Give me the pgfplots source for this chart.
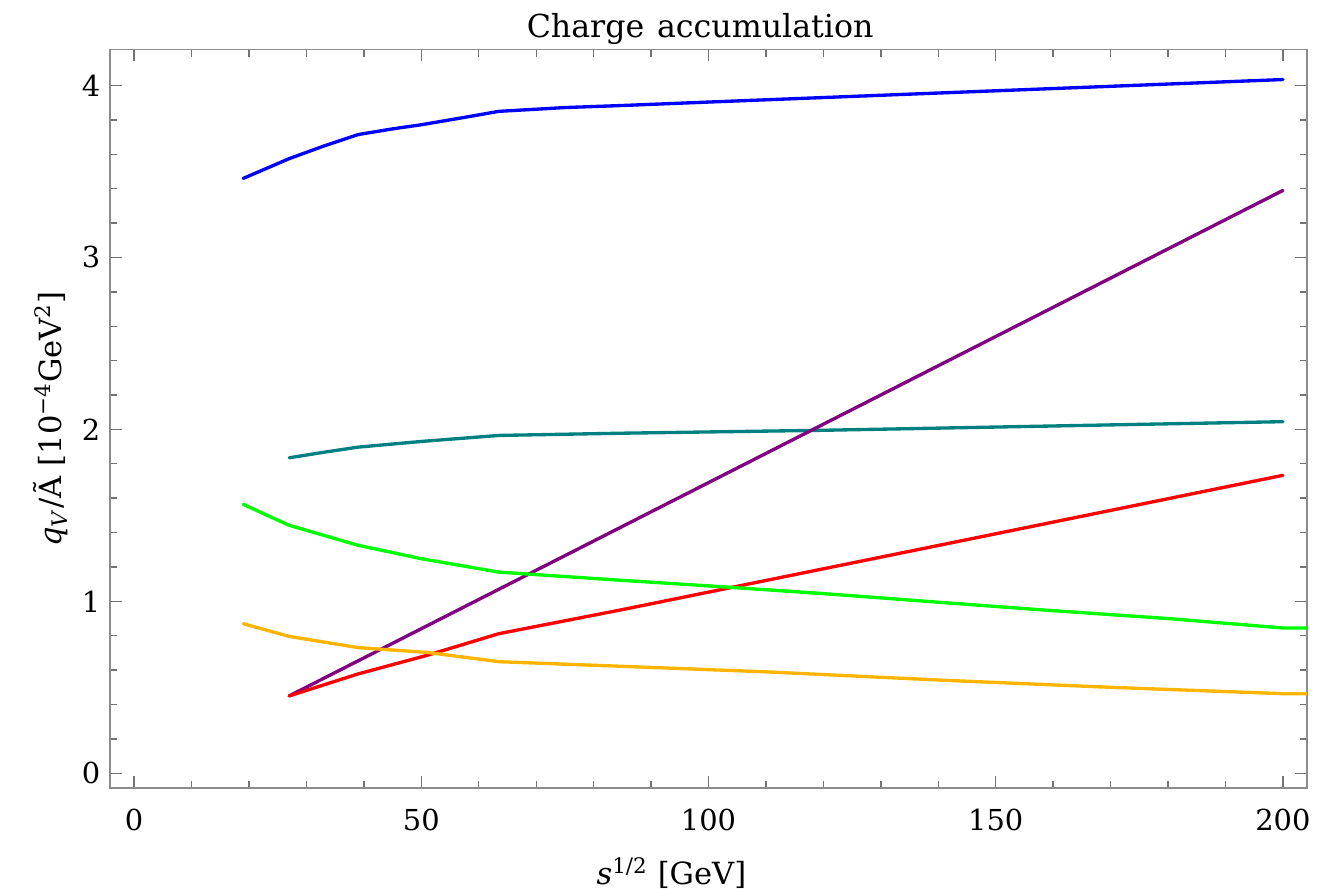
\documentclass[border=0pt]{standalone}
\usepackage{fontspec}
\setmainfont{DejaVu Serif}
\usepackage{pgfplots}
\pgfplotsset{compat=1.18}
\definecolor{cblue}{rgb}{0,0,1}
\definecolor{cteal}{rgb}{0,0.5,0.5}
\definecolor{cgreen}{rgb}{0,1,0}
\definecolor{corange}{rgb}{1,0.71,0}
\definecolor{cred}{rgb}{1,0,0}
\definecolor{cpurple}{rgb}{0.5,0,0.5}
\begin{document}
\begin{tikzpicture}
\useasboundingbox (-39.6pt,-38.5pt) rectangle (435.3pt,283.8pt);
\begin{axis}[
  at={(0,0)}, anchor=south west,
  scale only axis, width=431pt, height=266pt,
  xmin=-4.2, xmax=204.2, ymin=-0.087, ymax=4.21,
  axis line style={draw=black!45, line width=0.6pt},
  every tick/.style={black!55, line width=0.5pt},
  xtick={0,50,100,150,200}, minor x tick num=4,
  ytick={0,1,2,3,4}, minor y tick num=4,
  major tick length=4.3pt, minor tick length=2.6pt,
  tick align=inside,
  font=\fontsize{10.4}{12}\selectfont,
  /pgf/number format/assume math mode=true,
  xticklabel style={anchor=base, yshift=-15.1pt},
  title={Charge\hspace{0.4em}accumulation},
  title style={font=\fontsize{11.4}{13}\selectfont, at={(axis description cs:0.493,1.0162)}, anchor=base, yshift=-6pt},
  xlabel={\textit{s}\textsuperscript{1/2} [GeV]},
  xlabel style={font=\fontsize{11}{13}\selectfont, at={(axis description cs:0.469,-0.130)}, anchor=base},
  ylabel={\textit{q}\textsubscript{\textit{V}}/Ã [10\textsuperscript{−4}GeV\textsuperscript{2}]},
  ylabel style={font=\fontsize{11}{13}\selectfont, at={(axis description cs:-0.0401,0.5)}, anchor=base, rotate=0},
  every axis plot/.append style={line width=1.2pt, line join=round, line cap=round},
]
\addplot[cblue] coordinates {(19,3.46) (27,3.575) (33,3.648) (39,3.715) (45,3.748) (50,3.772) (57,3.812) (63.5,3.85) (75,3.872) (85,3.884) (100,3.904) (135,3.95) (168,3.993) (200,4.035)};
\addplot[cteal] coordinates {(27,1.835) (33,1.867) (39,1.897) (50,1.93) (63.5,1.965) (85,1.978) (120,1.995) (160,2.02) (200,2.045)};
\addplot[cpurple] coordinates {(27,0.45) (200,3.39)};
\addplot[cred] coordinates {(27,0.45) (39,0.578) (51,0.686) (63.5,0.812) (85,0.952) (140,1.325) (200,1.733)};
\addplot[cgreen] coordinates {(19,1.564) (27,1.442) (39,1.326) (50,1.248) (63.5,1.17) (85,1.122) (100,1.09) (120,1.045) (140,0.995) (159,0.948) (180,0.9) (200,0.845) (204.2,0.845)};
\addplot[corange] coordinates {(19,0.87) (27,0.796) (39,0.731) (51,0.703) (63.5,0.649) (85,0.622) (110,0.59) (141,0.541) (170,0.50) (200,0.463) (204.2,0.463)};
\end{axis}
\end{tikzpicture}
\end{document}
